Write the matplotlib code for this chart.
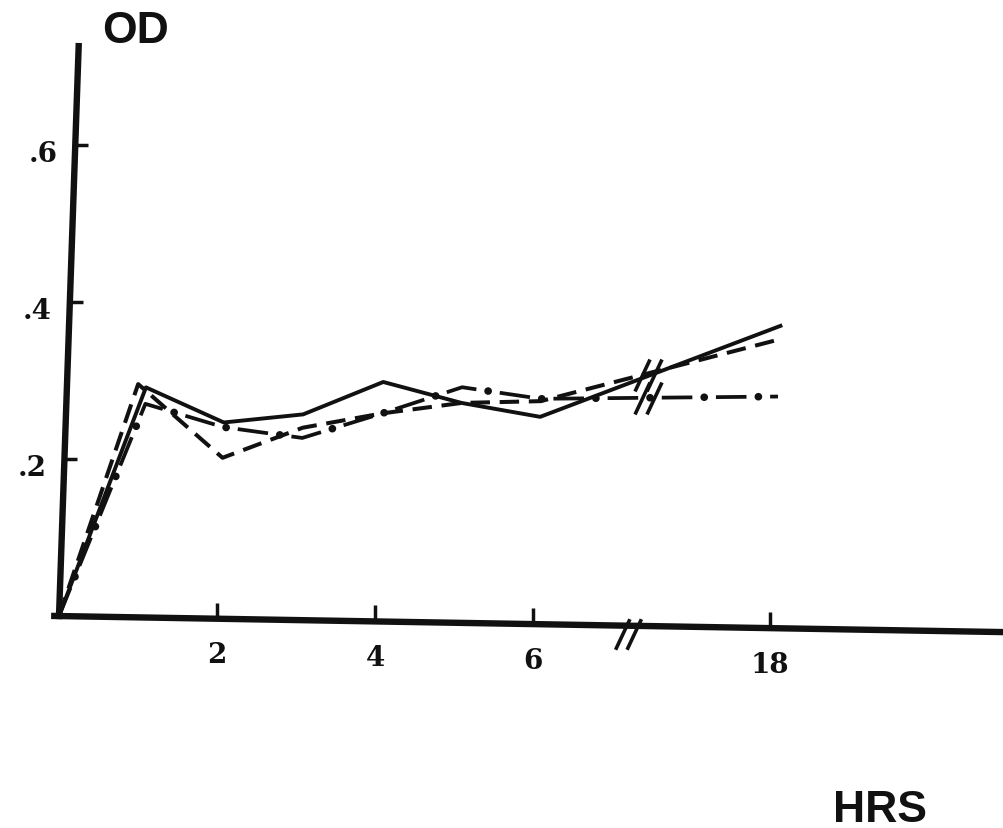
"""
Croissance (OD) en fonction du temps - trois cultures, axe du temps coupé entre 6 h et 18 h
"""

import matplotlib
matplotlib.use("Agg")
import matplotlib.pyplot as plt
import numpy as np
from matplotlib.path import Path
from matplotlib.transforms import Affine2D, offset_copy

# Lectures (heures, OD)
solid_hrs = [0, 1, 2, 3, 4, 5, 6, 18]
solid_od = [0, 0.293, 0.25, 0.262, 0.305, 0.28, 0.264, 0.385]

dashed_hrs = [0, 0.9, 2, 3, 4, 5, 6, 18]
dashed_od = [0, 0.297, 0.205, 0.245, 0.265, 0.28, 0.284, 0.368]

dashdot_hrs = [0, 1, 2, 3, 4, 5, 6, 18]
dashdot_od = [0, 0.272, 0.244, 0.232, 0.265, 0.30, 0.287, 0.295]

x_ticks = [2, 4, 6, 18]
x_ticklabels = ["2", "4", "6", "18"]
y_ticks = [0.2, 0.4, 0.6]
y_ticklabels = [".2", ".4", ".6"]

# axe coupé : 18 h est placé à la position 9
BREAK_POS = 7.2
LINE_BREAK_POS = 7.35
POS_18 = 9.0

INK = "#111111"


def hpos(h):
    h = np.asarray(h, dtype=float)
    return np.where(h > 6, POS_18 + (h - 18), h)


plt.rcParams["lines.scale_dashes"] = False

fig = plt.figure(figsize=(10.04, 8.29), dpi=100)
ax = fig.add_axes([0, 0, 1, 1])
ax.set_xlim(-0.747, 11.962)
ax.set_ylim(-0.270, 0.786)
ax.axis("off")

# la feuille est légèrement de travers : petit cisaillement autour de l'origine
x0, y0 = ax.transData.transform((0, 0))
a, b = 0.0345, 0.017
skew = Affine2D(np.array([[1, a, -a * y0], [-b, 1, b * x0], [0, 0, 1]]))
T = ax.transData + skew

# axes
ax.plot([-0.1, 12.8], [0, 0], color=INK, lw=4.6, transform=T, solid_capstyle="butt")
ax.plot([0, 0], [-0.004, 0.73], color=INK, lw=4.6, transform=T, solid_capstyle="butt")

tick_up = Path([(0, 0), (0, 1)], [Path.MOVETO, Path.LINETO])
tick_right = Path([(0, 0), (1, 0)], [Path.MOVETO, Path.LINETO])
ax.plot(hpos(x_ticks), [0] * len(x_ticks), ls="none", marker=tick_up, ms=23,
        mew=2.5, color=INK, transform=T)
ax.plot([0] * len(y_ticks), y_ticks, ls="none", marker=tick_right, ms=19,
        mew=2.5, color=INK, transform=T)

xlab_tr = offset_copy(T, fig=fig, y=-36, units="dots")
for h, lab in zip(x_ticks, x_ticklabels):
    ax.text(float(hpos(h)), 0, lab, transform=xlab_tr, ha="center", va="center",
            fontsize=20, family="DejaVu Serif", weight="bold", color=INK)

ylab_tr = offset_copy(T, fig=fig, x=-18, y=-8, units="dots")
for v, lab in zip(y_ticks, y_ticklabels):
    ax.text(0, v, lab, transform=ylab_tr, ha="right", va="center",
            fontsize=20, family="DejaVu Serif", weight="bold", color=INK)

# courbes
ax.plot(hpos(solid_hrs), solid_od, color=INK, lw=2.8, transform=T,
        solid_joinstyle="round")
ax.plot(hpos(dashed_hrs), dashed_od, color=INK, lw=2.9, ls=(0, (14, 7)),
        transform=T)
ax.plot(hpos(dashdot_hrs), dashdot_od, color=INK, lw=2.7, ls=(0, (22, 17)),
        transform=T)
ax.plot(hpos(dashdot_hrs), dashdot_od, color=INK, lw=5.5, ls=(8.5, (0.1, 38.9)),
        dash_capstyle="round", transform=T)

# marques de coupure "//"
brk = Path([(-0.845, -1), (0.095, 1), (-0.095, -1), (0.845, 1)],
           [Path.MOVETO, Path.LINETO, Path.MOVETO, Path.LINETO])
y_up = np.mean([np.interp(LINE_BREAK_POS, hpos(solid_hrs), solid_od),
                np.interp(LINE_BREAK_POS, hpos(dashed_hrs), dashed_od)])
y_dd = np.interp(LINE_BREAK_POS, hpos(dashdot_hrs), dashdot_od)
ax.plot([LINE_BREAK_POS, LINE_BREAK_POS], [y_up, y_dd], ls="none", marker=brk,
        ms=23, mew=2.6, mfc="none", color=INK, transform=T)
ax.plot([BREAK_POS], [-0.01], ls="none", marker=brk, ms=22, mew=2.6,
        mfc="none", color=INK, transform=T)

# titres d'axes
fig.text(136 / 1004, 1 - 43 / 829, "OD", fontsize=32, weight="bold",
         family="Liberation Sans", ha="center", va="baseline", color=INK)
fig.text(880 / 1004, 1 - 822 / 829, "HRS", fontsize=32, weight="bold",
         family="Liberation Sans", ha="center", va="baseline", color=INK)

fig.savefig("out.png", dpi=100)
